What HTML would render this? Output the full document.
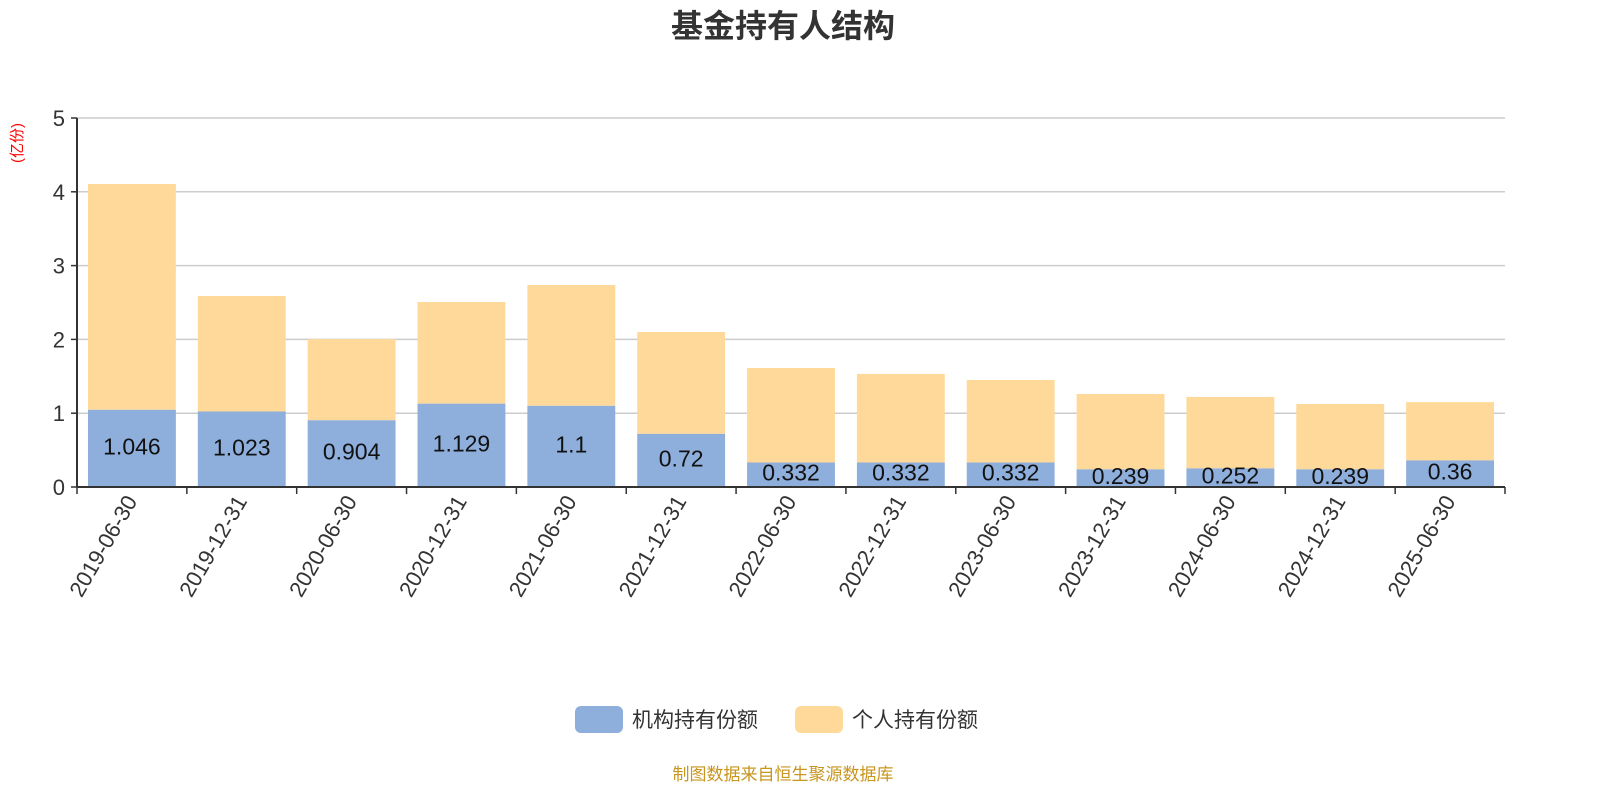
<!DOCTYPE html>
<html><head><meta charset="utf-8"><style>
body{margin:0;background:#fff}
svg{font-family:"Liberation Sans","Noto Sans CJK SC",sans-serif}
</style></head><body>
<svg id="c" width="1600" height="800">
<text x="783" y="37" text-anchor="middle" font-size="32" font-weight="bold" fill="#333">基金持有人结构</text>
<text transform="translate(22,143) rotate(-90)" text-anchor="middle" font-size="15" fill="#f00">(亿份)</text>
<g id="grid"></g><g id="bars"></g><g id="axes"></g>
<g>
<g><rect x="575" y="706" width="48" height="27" rx="6" fill="#8eaedc"/><text x="632" y="727" font-size="21" fill="#333">机构持有份额</text></g>
<g><rect x="795" y="706" width="48" height="27" rx="6" fill="#ffd999"/><text x="852" y="727" font-size="21" fill="#333">个人持有份额</text></g>
</g>
<text x="783" y="780" text-anchor="middle" font-size="17" fill="#c8961e">制图数据来自恒生聚源数据库</text>
</svg>
<script>
const categories=["2019-06-30","2019-12-31","2020-06-30","2020-12-31","2021-06-30","2021-12-31","2022-06-30","2022-12-31","2023-06-30","2023-12-31","2024-06-30","2024-12-31","2025-06-30"];
const institution=[1.046,1.023,0.904,1.129,1.1,0.72,0.332,0.332,0.332,0.239,0.252,0.239,0.36];
const individual=[3.06,1.565,1.10,1.378,1.637,1.38,1.28,1.20,1.118,1.021,0.968,0.886,0.79];
const yTicks=[0,1,2,3,4,5];
const NS="http://www.w3.org/2000/svg";
const x0=77,x1=1505,y0=487,yTop=118,yMax=5;
const bw=(x1-x0)/categories.length;
const ys=v=>y0-(v/yMax)*(y0-yTop);
const xs=i=>x0+bw*i;
function mk(tag,attrs,parent,txt){const e=document.createElementNS(NS,tag);for(const k in attrs)e.setAttribute(k,attrs[k]);if(txt!==undefined)e.textContent=txt;parent.appendChild(e);return e;}
const grid=document.getElementById('grid'),bars=document.getElementById('bars'),axes=document.getElementById('axes');
yTicks.forEach(t=>{
  const y=ys(t);
  if(t>0){const l=mk('line',{x1:x0,x2:x1,y1:y,y2:y,stroke:'#ccc','stroke-width':1.5},grid);
  
  }
  const tk=mk('line',{x1:x0-6,x2:x0,y1:y,y2:y,stroke:'#333','stroke-width':1.5},axes);
  
  
  const tx=mk('text',{x:x0-12,y:y+8,'text-anchor':'end','font-size':22,fill:'#333'},axes,String(t));
  
  
});
categories.forEach((c,i)=>{
  const bx=xs(i)+bw*0.1,w=bw*0.8;
  const yi=ys(institution[i]),yt=ys(institution[i]+individual[i]);
  const r2=mk('rect',{x:bx,y:yt,width:w,height:yi-yt,fill:'#ffd999'},bars);
  
  
  const r1=mk('rect',{x:bx,y:yi,width:w,height:y0-yi,fill:'#8eaedc'},bars);
  
  
  const lb=mk('text',{x:bx+w/2,y:(yi+y0)/2+6,'text-anchor':'middle','font-size':23,fill:'#111'},bars,String(institution[i]));
  
  
  const tx=xs(i)+bw/2;
  const xl=mk('text',{transform:`translate(${tx+6},${y0+14}) rotate(-60)`,'text-anchor':'end','font-size':22,fill:'#333'},axes,c);
  
  
});
for(let i=0;i<=categories.length;i++){
  const t=mk('line',{x1:xs(i),x2:xs(i),y1:y0,y2:y0+7,stroke:'#333','stroke-width':1.5},axes);
  
  
}
const ya=mk('line',{x1:x0,x2:x0,y1:yTop,y2:y0,stroke:'#333','stroke-width':2},axes);


const xa=mk('line',{x1:x0,x2:x1,y1:y0,y2:y0,stroke:'#333','stroke-width':2},axes);


</script>
</body></html>
